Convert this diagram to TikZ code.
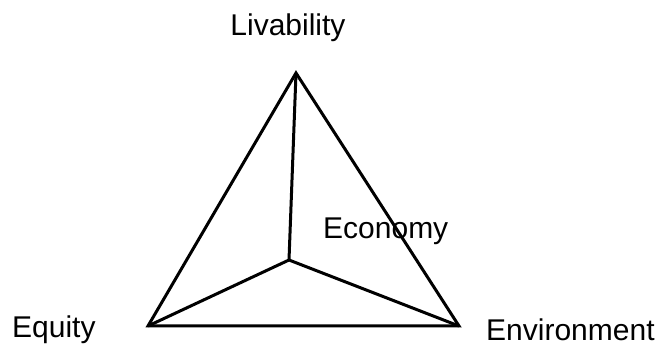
\documentclass[tikz,border=0pt]{standalone}
\usepackage{fontspec}
\setmainfont{Liberation Sans}
\usetikzlibrary{positioning}
\tikzset{
  lbl/.style={inner sep=0pt, anchor=base west, font=\fontsize{30}{36}\selectfont},
  edge/.style={line width=3pt, line join=miter},
}

\begin{document}
\begin{tikzpicture}[x=1pt, y=-1pt]
\useasboundingbox (0,0) rectangle (662,347);

% vertices
\coordinate (liv) at (296,73);
\coordinate (equ) at (148,326);
\coordinate (env) at (459,326);
\coordinate (eco) at (289,260);

% outer triangle
\draw[edge] (liv) -- (equ) -- (env) -- cycle;

% inner spokes
\draw[edge] (liv) -- (eco);
\draw[edge] (equ) -- (eco) -- (env);

% labels
\node[lbl, anchor=base] (livlbl) at (288,36) {Livability};
\node[lbl] (ecolbl) at (323,239) {Economy};
\node[lbl] (equlbl) at (12,338) {Equity};
\node[lbl] (envlbl) at (486,341) {Environment};

\end{tikzpicture}
\end{document}
